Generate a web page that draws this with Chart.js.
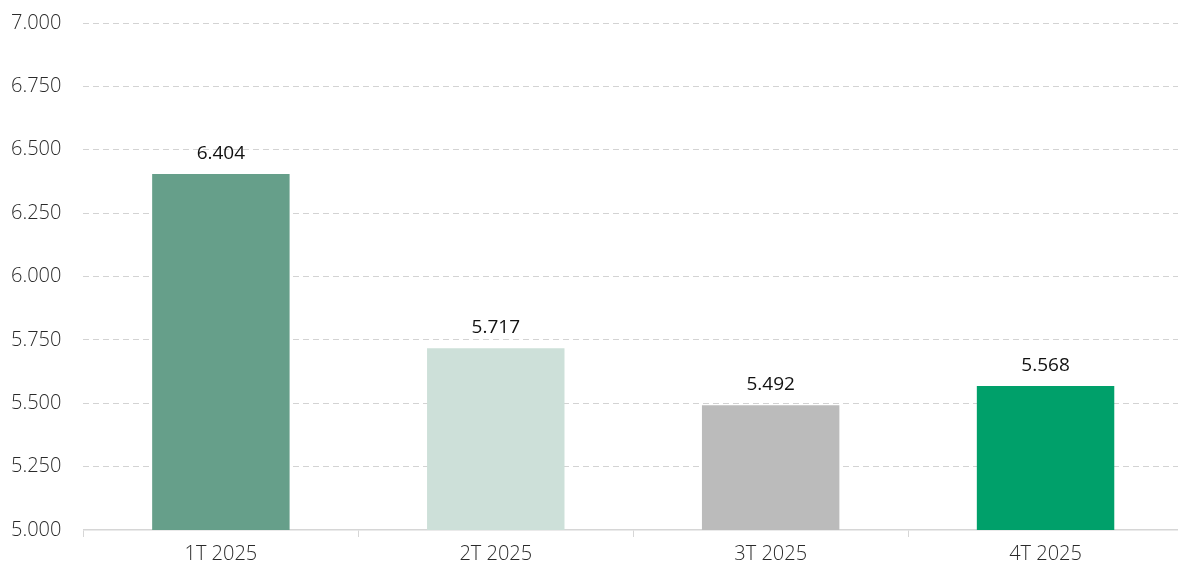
<!DOCTYPE html>
<html lang="en">
<head>
  <meta charset="UTF-8" />
  <title>Quarterly chart</title>
  <script src="https://cdn.jsdelivr.net/npm/chart.js@4.4.1/dist/chart.umd.min.js"></script>
  <style>
    * { margin: 0; padding: 0; box-sizing: border-box; }
    html, body { width: 1178px; height: 567px; overflow: hidden; background: #ffffff; }
    .chart-wrap { position: relative; width: 1183px; height: 567px; }
  </style>
</head>
<body>
  <div class="chart-wrap">
    <canvas id="barChart"></canvas>
  </div>
  <script>
    // Chart data
    const quarters = ['1T 2025', '2T 2025', '3T 2025', '4T 2025'];
    const values = [6404, 5717, 5492, 5568];
    const barColors = ['#669f8a', '#cde0d9', '#bbbbbb', '#00a06a'];
    const yMin = 5000;
    const yMax = 7000;
    const yStep = 250;

    const fmt = v => v.toLocaleString('de-DE', { minimumFractionDigits: 0 });

    // Draws the value above each bar
    const valueLabels = {
      id: 'valueLabels',
      afterDatasetsDraw(chart) {
        const ctx = chart.ctx;
        const meta = chart.getDatasetMeta(0);
        ctx.save();
        ctx.font = '400 19px "Open Sans", sans-serif';
        ctx.fillStyle = '#111111';
        ctx.textAlign = 'center';
        ctx.textBaseline = 'bottom';
        meta.data.forEach((bar, i) => {
          ctx.fillText(fmt(values[i]), bar.x, bar.y - 11);
        });
        ctx.restore();
      }
    };

    const ctx = document.getElementById('barChart').getContext('2d');
    new Chart(ctx, {
      type: 'bar',
      data: {
        labels: quarters,
        datasets: [{
          data: values,
          backgroundColor: barColors,
          borderWidth: 0,
          categoryPercentage: 1,
          barPercentage: 0.5
        }]
      },
      options: {
        responsive: true,
        maintainAspectRatio: false,
        animation: false,
        layout: { padding: { top: 6, left: 11, right: 0, bottom: -4 } },
        plugins: {
          legend: { display: false },
          tooltip: { enabled: false }
        },
        scales: {
          x: {
            grid: {
              offset: true,
              drawOnChartArea: false,
              drawTicks: true,
              tickLength: 7,
              color: '#d6d6d6'
            },
            border: { color: '#d6d6d6', width: 1.5 },
            ticks: {
              color: '#2a2a2a',
              font: { family: '"Open Sans", sans-serif', size: 20, weight: 300 },
              padding: 5
            }
          },
          y: {
            min: yMin,
            max: yMax,
            border: { display: false, dash: [6, 4] },
            grid: {
              drawTicks: false,
              color: c => c.tick.value === yMin ? 'rgba(0,0,0,0)' : '#d3d3d3',
              lineWidth: 1
            },
            ticks: {
              stepSize: yStep,
              color: '#2a2a2a',
              crossAlign: 'far',
              padding: 11,
              font: { family: '"Open Sans", sans-serif', size: 20, weight: 300 },
              callback: v => fmt(v)
            }
          }
        }
      },
      plugins: [valueLabels]
    });
  </script>
</body>
</html>
